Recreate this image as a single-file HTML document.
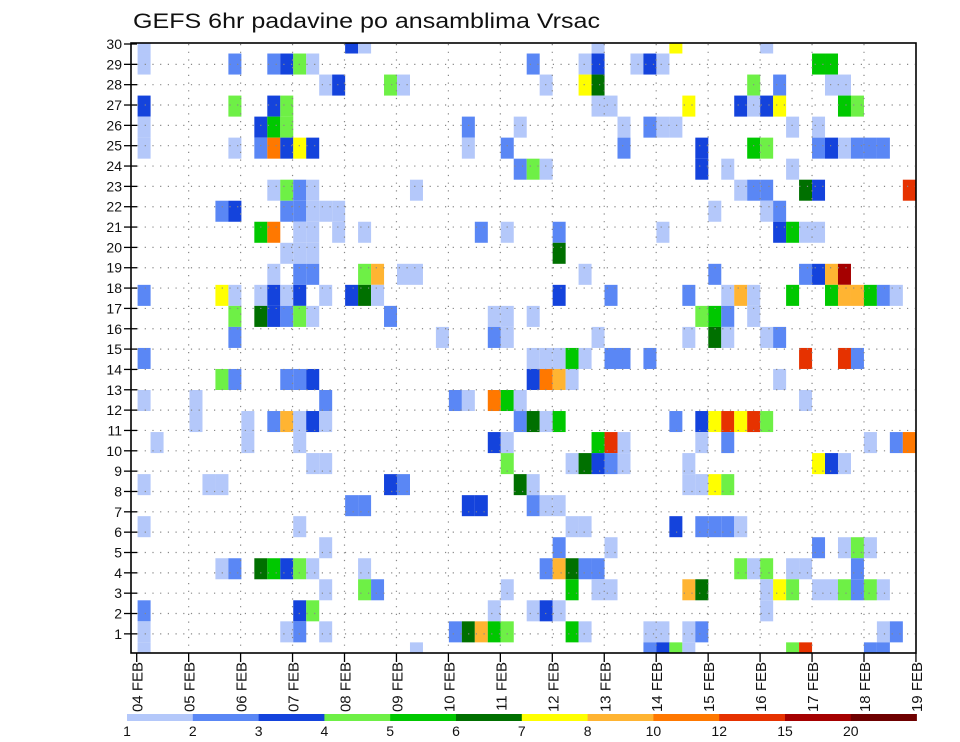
<!DOCTYPE html>
<html><head><meta charset="utf-8"><style>
html,body{margin:0;padding:0;background:#fff;}
svg{display:block;font-family:"Liberation Sans",sans-serif;}
</style></head><body>
<svg id="chart" width="960" height="742" viewBox="0 0 960 742" xmlns="http://www.w3.org/2000/svg">
<defs><clipPath id="plotclip"><rect x="131" y="43" width="785" height="610"/></clipPath></defs>
<rect x="0" y="0" width="960" height="742" fill="#fff"/>
<text x="133" y="28" font-size="21" textLength="467" lengthAdjust="spacingAndGlyphs" fill="#111">GEFS 6hr padavine po ansamblima Vrsac</text>
<g id="cells" clip-path="url(#plotclip)"></g>
<g id="grid"></g>
<rect x="131" y="43" width="785" height="610" fill="none" stroke="#000" stroke-width="1.6"/>
<g id="yaxis"></g>
<g id="xaxis"></g>
<g id="legend"></g>
</svg>
<script>
// ---- data ----
const dayLabels = ["04 FEB","05 FEB","06 FEB","07 FEB","08 FEB","09 FEB","10 FEB","11 FEB","12 FEB","13 FEB","14 FEB","15 FEB","16 FEB","17 FEB","18 FEB","19 FEB"];
const memberTicks = [1,2,3,4,5,6,7,8,9,10,11,12,13,14,15,16,17,18,19,20,21,22,23,24,25,26,27,28,29,30];
const levels = [1,2,3,4,5,6,7,8,10,12,15,20];
const levelColors = ["#b4c8fa","#5a87f5","#1443dc","#6ef046","#00c800","#007000","#ffff00","#ffb432","#ff7800","#e63200","#a50000","#6e0000"];
// each entry: [member, 6-hour step index, precipitation value]
const precip = [
[30,0,1.5],[30,16,3.5],[30,17,1.5],[30,35,1.5],[30,41,7.5],[30,48,1.5],
[29,0,1.5],[29,7,2.5],[29,10,2.5],[29,11,3.5],[29,12,4.5],[29,13,1.5],[29,30,2.5],[29,34,1.5],[29,35,3.5],[29,38,1.5],[29,39,3.5],[29,40,1.5],[29,52,5.5],[29,53,5.5],
[28,14,1.5],[28,15,3.5],[28,19,4.5],[28,20,1.5],[28,31,1.5],[28,34,7.5],[28,35,6.5],[28,47,4.5],[28,49,2.5],[28,53,1.5],[28,54,1.5],
[27,0,3.5],[27,7,4.5],[27,10,3.5],[27,11,4.5],[27,35,1.5],[27,36,1.5],[27,42,7.5],[27,46,3.5],[27,47,1.5],[27,48,3.5],[27,49,7.5],[27,54,5.5],[27,55,4.5],
[26,0,1.5],[26,9,3.5],[26,10,5.5],[26,11,4.5],[26,25,2.5],[26,29,1.5],[26,37,1.5],[26,39,2.5],[26,40,1.5],[26,41,1.5],[26,50,1.5],[26,52,1.5],
[25,0,1.5],[25,7,1.5],[25,9,2.5],[25,10,11],[25,11,3.5],[25,12,7.5],[25,13,3.5],[25,25,1.5],[25,28,2.5],[25,37,2.5],[25,43,3.5],[25,47,5.5],[25,48,4.5],[25,52,2.5],[25,53,3.5],[25,54,1.5],[25,55,2.5],[25,56,2.5],[25,57,2.5],
[24,29,2.5],[24,30,4.5],[24,31,1.5],[24,43,3.5],[24,45,1.5],[24,50,1.5],
[23,10,1.5],[23,11,4.5],[23,12,2.5],[23,13,1.5],[23,21,1.5],[23,46,1.5],[23,47,2.5],[23,48,2.5],[23,51,6.5],[23,52,3.5],[23,59,13.5],
[22,6,2.5],[22,7,3.5],[22,11,2.5],[22,12,2.5],[22,13,1.5],[22,14,1.5],[22,15,1.5],[22,44,1.5],[22,48,1.5],[22,49,2.5],
[21,9,5.5],[21,10,11],[21,12,1.5],[21,13,1.5],[21,15,1.5],[21,17,1.5],[21,26,2.5],[21,28,1.5],[21,32,2.5],[21,40,1.5],[21,49,3.5],[21,50,5.5],[21,51,1.5],[21,52,1.5],
[20,11,1.5],[20,12,1.5],[20,13,1.5],[20,32,6.5],
[19,10,1.5],[19,12,2.5],[19,13,2.5],[19,17,4.5],[19,18,9],[19,20,1.5],[19,21,1.5],[19,34,1.5],[19,44,2.5],[19,51,2.5],[19,52,3.5],[19,53,9],[19,54,17],
[18,0,2.5],[18,6,7.5],[18,7,1.5],[18,9,1.5],[18,10,3.5],[18,11,1.5],[18,12,3.5],[18,14,1.5],[18,16,3.5],[18,17,6.5],[18,18,1.5],[18,32,3.5],[18,36,2.5],[18,42,2.5],[18,45,1.5],[18,46,9],[18,47,1.5],[18,50,5.5],[18,53,5.5],[18,54,9],[18,55,9],[18,56,5.5],[18,57,2.5],[18,58,1.5],
[17,7,4.5],[17,9,6.5],[17,10,3.5],[17,11,2.5],[17,12,4.5],[17,13,1.5],[17,19,2.5],[17,27,1.5],[17,28,1.5],[17,30,1.5],[17,43,4.5],[17,44,5.5],[17,45,2.5],[17,47,1.5],
[16,7,2.5],[16,23,1.5],[16,27,2.5],[16,28,1.5],[16,35,1.5],[16,42,1.5],[16,44,6.5],[16,45,1.5],[16,48,1.5],[16,49,2.5],
[15,0,2.5],[15,30,1.5],[15,31,1.5],[15,32,1.5],[15,33,5.5],[15,34,1.5],[15,36,2.5],[15,37,2.5],[15,39,2.5],[15,51,13.5],[15,54,13.5],[15,55,2.5],
[14,6,4.5],[14,7,2.5],[14,11,2.5],[14,12,2.5],[14,13,3.5],[14,30,3.5],[14,31,11],[14,32,9],[14,33,1.5],[14,49,1.5],
[13,0,1.5],[13,4,1.5],[13,14,2.5],[13,24,2.5],[13,25,1.5],[13,27,11],[13,28,5.5],[13,29,1.5],[13,51,1.5],
[12,4,1.5],[12,8,1.5],[12,10,2.5],[12,11,9],[12,12,1.5],[12,13,3.5],[12,14,1.5],[12,29,2.5],[12,30,6.5],[12,31,1.5],[12,32,5.5],[12,41,2.5],[12,43,3.5],[12,44,7.5],[12,45,13.5],[12,46,7.5],[12,47,13.5],[12,48,4.5],
[11,1,1.5],[11,8,1.5],[11,12,1.5],[11,27,3.5],[11,28,1.5],[11,35,5.5],[11,36,13.5],[11,37,1.5],[11,43,1.5],[11,45,2.5],[11,56,1.5],[11,58,2.5],[11,59,11],
[10,13,1.5],[10,14,1.5],[10,28,4.5],[10,33,1.5],[10,34,6.5],[10,35,3.5],[10,36,2.5],[10,37,1.5],[10,42,1.5],[10,52,7.5],[10,53,3.5],[10,54,1.5],
[9,0,1.5],[9,5,1.5],[9,6,1.5],[9,19,3.5],[9,20,2.5],[9,29,6.5],[9,30,1.5],[9,42,1.5],[9,43,1.5],[9,44,7.5],[9,45,4.5],
[8,16,2.5],[8,17,2.5],[8,25,3.5],[8,26,3.5],[8,30,2.5],[8,31,1.5],[8,32,1.5],
[7,0,1.5],[7,12,1.5],[7,33,1.5],[7,34,1.5],[7,41,3.5],[7,43,2.5],[7,44,2.5],[7,45,2.5],[7,46,1.5],
[6,14,1.5],[6,32,2.5],[6,36,1.5],[6,52,2.5],[6,54,1.5],[6,55,4.5],[6,56,1.5],
[5,6,1.5],[5,7,2.5],[5,9,6.5],[5,10,5.5],[5,11,3.5],[5,12,4.5],[5,13,1.5],[5,17,1.5],[5,31,2.5],[5,32,9],[5,33,6.5],[5,34,2.5],[5,35,2.5],[5,46,4.5],[5,47,1.5],[5,48,4.5],[5,50,1.5],[5,51,1.5],[5,55,2.5],
[4,14,1.5],[4,17,4.5],[4,18,2.5],[4,28,1.5],[4,33,5.5],[4,35,1.5],[4,36,1.5],[4,42,9],[4,43,6.5],[4,48,1.5],[4,49,7.5],[4,50,4.5],[4,52,1.5],[4,53,1.5],[4,54,4.5],[4,55,2.5],[4,56,4.5],[4,57,1.5],
[3,0,2.5],[3,12,3.5],[3,13,4.5],[3,27,1.5],[3,30,1.5],[3,31,3.5],[3,32,1.5],[3,48,1.5],
[2,0,1.5],[2,11,1.5],[2,12,2.5],[2,14,1.5],[2,24,2.5],[2,25,6.5],[2,26,9],[2,27,5.5],[2,28,4.5],[2,33,5.5],[2,34,1.5],[2,39,1.5],[2,40,1.5],[2,42,1.5],[2,43,2.5],[2,57,1.5],[2,58,2.5],
[1,0,1.5],[1,21,1.5],[1,39,2.5],[1,40,3.5],[1,41,4.5],[1,42,1.5],[1,50,4.5],[1,51,13.5],[1,56,2.5],[1,57,2.5]
];

// ---- scales ----
const NS = "http://www.w3.org/2000/svg";
function xStep(s){ return 137.6 + 12.97 * s; }         // left edge of 6-hour cell
const stepW = 13;
function yMember(v){ return 43 + (30 - v) * 21.03; }     // data position of member
function yLabel(v){ return 44 + (30 - v) * 20.34; }      // tick/label position
function xDay(d){ return 136.7 + 51.95 * d; }
function colorFor(v){
  let k = -1;
  for (let i = 0; i < levels.length; i++) if (v >= levels[i]) k = i;
  return k < 0 ? null : levelColors[k];
}
function mk(tag, attrs, parent){
  const e = document.createElementNS(NS, tag);
  for (const k in attrs) e.setAttribute(k, attrs[k]);
  parent.appendChild(e);
  return e;
}

// ---- cells ----
const gCells = document.getElementById('cells');
precip.forEach(p => {
  const c = colorFor(p[2]);
  if (!c) return;
  const top = yMember(p[0] + 0.5), bot = yMember(p[0] - 0.5);
  const r = mk('rect', {x: xStep(p[1]).toFixed(2), y: top.toFixed(2), width: stepW, height: (bot - top).toFixed(2), fill: c}, gCells);
  
  
});

// ---- grid ----
const gGrid = document.getElementById('grid');
memberTicks.forEach(v => {
  if (v === 30) return;
  const l = mk('line', {x1: 137, x2: 915, y1: yLabel(v), y2: yLabel(v), stroke: '#888', 'stroke-width': 1.2, 'stroke-dasharray': '1.2,6.5'}, gGrid);
  
  
});
dayLabels.forEach((d, i) => {
  if (i === 0 || i === dayLabels.length - 1) return;
  const l = mk('line', {x1: xDay(i), x2: xDay(i), y1: 44, y2: 652, stroke: '#888', 'stroke-width': 1.2, 'stroke-dasharray': '1.2,6.5'}, gGrid);
  
  
});

// ---- y axis ----
const gY = document.getElementById('yaxis');
memberTicks.forEach(v => {
  const t = mk('line', {x1: 124, x2: 137, y1: yLabel(v), y2: yLabel(v), stroke: '#000', 'stroke-width': 1.3}, gY);
  
  
  const tx = mk('text', {x: 122, y: yLabel(v) + 5, 'font-size': 14, 'text-anchor': 'end', fill: '#111'}, gY);
  tx.textContent = String(v);
  
  
});

// ---- x axis ----
const gX = document.getElementById('xaxis');
dayLabels.forEach((d, i) => {
  const x = xDay(i);
  const t = mk('line', {x1: x, x2: x, y1: 653, y2: 662, stroke: '#000', 'stroke-width': 1.3}, gX);
  
  
  const tx = mk('text', {x: 0, y: 0, 'font-size': 15, 'text-anchor': 'end', fill: '#111', transform: 'translate(' + (x + 6).toFixed(1) + ',662) rotate(-90)'}, gX);
  tx.textContent = d;
  
  
});

// ---- legend ----
const gL = document.getElementById('legend');
const lx0 = 127, lw = 65.8;
levels.forEach((lv, i) => {
  const r = mk('rect', {x: (lx0 + lw * i).toFixed(2), y: 714, width: (lw + 0.3).toFixed(2), height: 7, fill: levelColors[i]}, gL);
  
  
  const tx = mk('text', {x: (lx0 + lw * i).toFixed(2), y: 736, 'font-size': 14, 'text-anchor': 'middle', fill: '#111'}, gL);
  tx.textContent = String(lv);
  
  
});
</script>
</body></html>
